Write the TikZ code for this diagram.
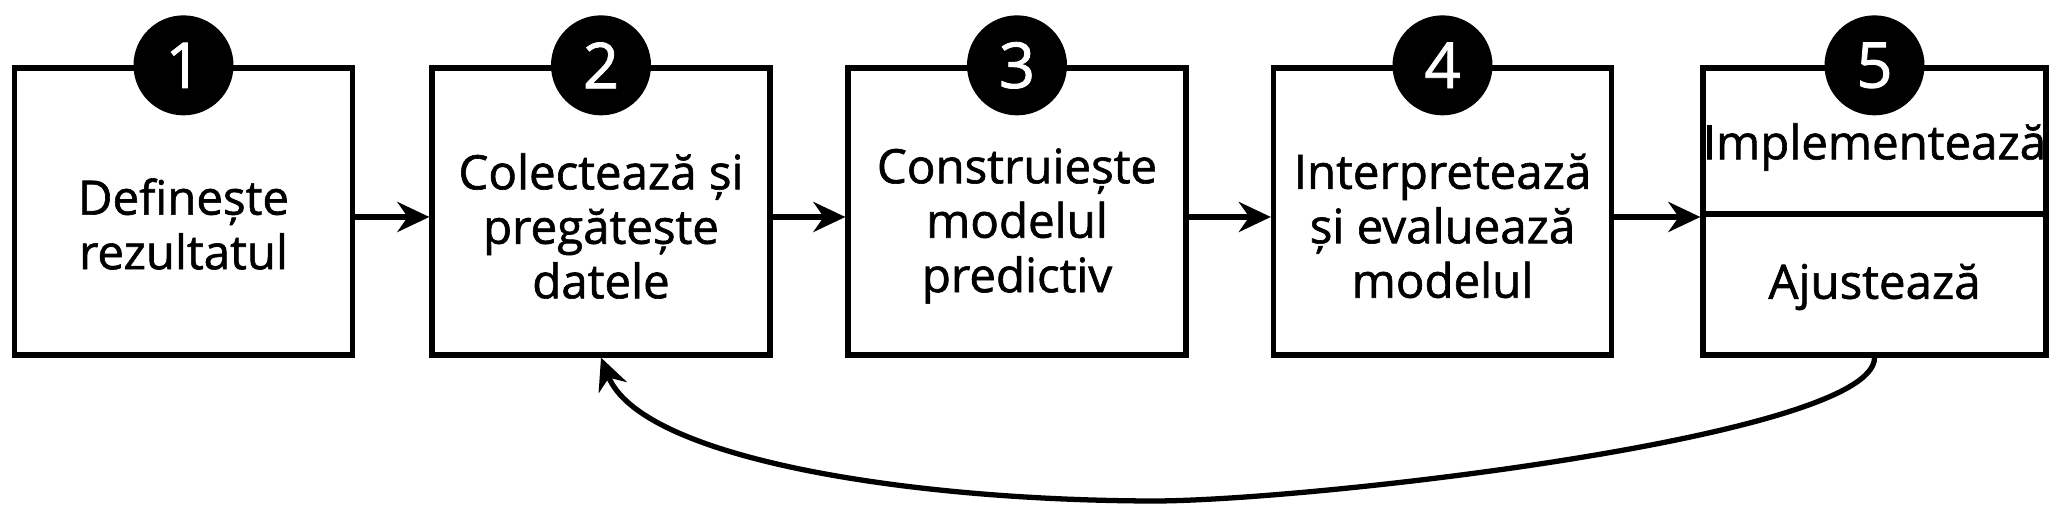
\documentclass[tikz,border=0pt]{standalone}
\usepackage{fontspec}
\setmainfont{Open Sans}[FakeBold=1.3]
\usetikzlibrary{arrows.meta,positioning}
\tikzset{
  stage/.style={draw,line width=1.5pt,minimum width=3.38cm,minimum height=2.87cm,inner sep=0pt},
  caption/.style={align=center,font=\fontsize{13.5}{15.5}\selectfont,inner sep=0pt},
  num/.style={circle,fill=black,text=white,minimum size=1.0cm,inner sep=0pt,font=\fontsize{18}{18}\selectfont},
  flow/.style={-{Stealth[length=0.32cm,width=0.3cm]},line width=1.5pt}
}
\begin{document}
\begin{tikzpicture}
\useasboundingbox (0,0) rectangle (20.64,5.12);
\node[stage] (S1) at (1.835,3.005) {};
\node[stage] (S2) at (6.01,3.005) {};
\node[stage] (S3) at (10.17,3.005) {};
\node[stage] (S4) at (14.425,3.005) {};
\node[stage,minimum width=3.43cm] (S5) at (18.745,3.005) {};
\node[caption] (T1) at (1.835,2.88) {Definește\\rezultatul};
\node[caption] (T2) at (6.01,2.86) {Colectează și\\pregătește\\datele};
\node[caption] (T3) at (10.17,2.86) {Construiește\\modelul\\predictiv};
\node[caption] (T4) at (14.425,2.86) {Interpretează\\și evaluează\\modelul};
\node[caption] (T5a) at (18.745,3.65) {Implementează};
\node[caption] (T5b) at (18.745,2.25) {Ajustează};
\draw[line width=1.5pt] (S5.west |- 0,2.98) -- (S5.east |- 0,2.98);
\foreach \i in {1,...,5} {
  \node[num] (N\i) at (S\i.north) {\i};
}
\foreach \i/\j in {1/2,2/3,3/4,4/5} {
  \draw[flow] (S\i.east |- 0,2.95) -- (S\j.west |- 0,2.95);
}
\draw[flow] (S5.south) .. controls (18.75,0.75) and (13,0.1) .. (11.5,0.11)
  .. controls (9,0.12) and (6.4,0.55) .. (S2.south);
\end{tikzpicture}
\end{document}
